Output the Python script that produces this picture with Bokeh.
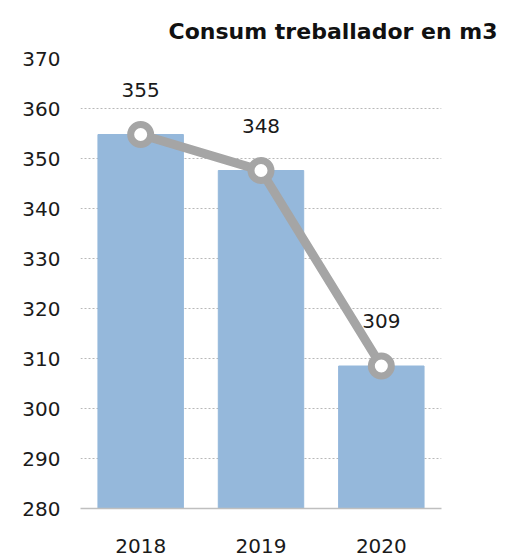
from bokeh.plotting import figure
from bokeh.models import FactorRange, Range1d, FixedTicker, Title
from bokeh.core.properties import value
from bokeh.embed import file_html
from bokeh.resources import INLINE

years = ["2018", "2019", "2020"]
consum = [354.8, 347.6, 308.5]
labels = ["355", "348", "309"]
y_ticks = [280, 290, 300, 310, 320, 330, 340, 350, 360, 370]
title_text = "Consum treballador en m3"

FONT = "DejaVu Sans"
BAR = "#95b8db"
LINE = "#a5a5a5"

p = figure(width=505, height=556, x_range=FactorRange(*years, range_padding=0),
           y_range=Range1d(280, 370), output_backend="svg", toolbar_location=None,
           min_border_left=80, min_border_right=64, min_border_top=58, min_border_bottom=48)
p.outline_line_color = None
p.background_fill_color = "white"

p.title = Title(text=title_text, align="right", offset=-56, standoff=25, vertical_align="top",
                text_font=FONT, text_font_size="22px", text_font_style="bold",
                text_color="#111111")

p.vbar(x=years, top=consum, bottom=280, width=0.71, color=BAR)
p.line(x=years, y=consum, line_color=LINE, line_width=9)
p.scatter(x=years, y=consum, size=20, fill_color="white", line_color=LINE, line_width=7)
p.text(x=years, y=consum, text=labels, y_offset=-45, text_align="center", text_baseline="middle",
       text_font=value(FONT), text_font_size="20px", text_color="#1a1a1a")

p.xgrid.grid_line_color = None
p.ygrid.grid_line_color = "#b8b8b8"
p.ygrid.grid_line_dash = "2 2"
p.ygrid.grid_line_width = 1

p.yaxis.ticker = FixedTicker(ticks=y_ticks)
p.yaxis.axis_line_color = None
p.yaxis.major_tick_line_color = None
p.yaxis.minor_tick_line_color = None
p.yaxis.major_label_standoff = 14
p.yaxis.major_label_text_font = FONT
p.yaxis.major_label_text_font_size = "20px"
p.yaxis.major_label_text_color = "#1a1a1a"

p.xaxis.axis_line_color = "#bfbfbf"
p.xaxis.axis_line_width = 1.5
p.xaxis.major_tick_line_color = None
p.xaxis.minor_tick_line_color = None
p.xaxis.major_label_standoff = 24
p.xaxis.major_label_text_font = FONT
p.xaxis.major_label_text_font_size = "20px"
p.xaxis.major_label_text_color = "#1a1a1a"

open("out.html", "w").write(file_html(p, INLINE))
